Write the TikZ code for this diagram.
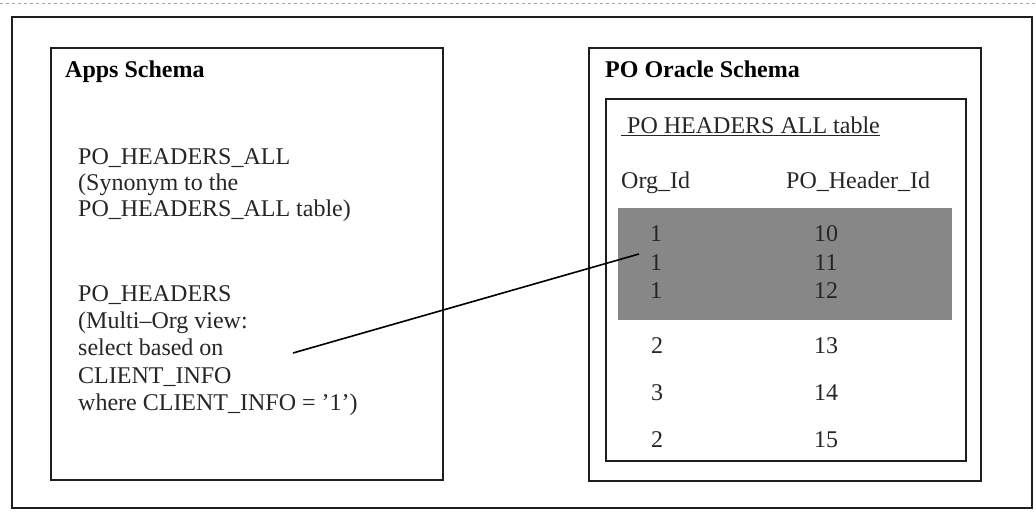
\documentclass[tikz,border=0pt]{standalone}
\usepackage{fontspec}
\setmainfont{Liberation Serif}
\definecolor{rowgray}{RGB}{135,135,135}
\definecolor{boxline}{RGB}{30,30,30}
\begin{document}
\begin{tikzpicture}[x=1pt,y=-1pt,
  frame/.style={draw=boxline,line width=1.6pt},
  txt/.style={anchor=base west,inner sep=0pt,font=\fontsize{24}{26}\selectfont,text=black!85},
  hdr/.style={anchor=base west,inner sep=0pt,font=\fontsize{24}{26}\selectfont\bfseries},
  num/.style={anchor=base,inner sep=0pt,font=\fontsize{24}{26}\selectfont,text=black!85},
  link/.style={draw=black,line width=1.6pt}]
\useasboundingbox (0,0) rectangle (1036,513);
\fill[white] (0,0) rectangle (1036,513);
% top dashed rule
\coordinate (tl) at (0,3);
\coordinate (tr) at (1036,3);
\draw[gray!70,dashed,line width=0.8pt] (tl) -- (tr);
% boxes
\draw[frame] (12,17) rectangle (1032,508);
\draw[frame] (51,48) rectangle (443,480);
\draw[frame] (589,48) rectangle (981,481);
\draw[frame] (606,99) rectangle (966,461);
\fill[rowgray] (618,208) rectangle (952,320);
% Apps schema texts
\node[hdr] (apps) at (65,78) {Apps Schema};
\node[txt] (a1) at (78,165) {PO\_HEADERS\_ALL};
\node[txt] (a2) at (78,191) {(Synonym to the};
\node[txt] (a3) at (78,217) {PO\_HEADERS\_ALL table)};
\node[txt] (b1) at (78,301) {PO\_HEADERS};
\node[txt] (b2) at (78,328) {(Multi–Org view:};
\node[txt] (b3) at (78,355) {select based on};
\node[txt] (b4) at (78,383) {CLIENT\_INFO};
\node[txt] (b5) at (78,410) {where CLIENT\_INFO = ’1’)};
% PO Oracle schema texts
\node[hdr] (po) at (605,78) {PO Oracle Schema};
\node[txt] (tt) at (621,134) {\underline{\ PO HEADERS ALL table}};
\node[txt] (c1) at (621,189) {Org\_Id};
\node[txt] (c2) at (786,189) {PO\_Header\_Id};
\node[num] (r1a) at (656,242) {1};
\node[num] (r1b) at (826,242) {10};
\node[num] (r2a) at (656,270) {1};
\node[num] (r2b) at (826,270) {11};
\node[num] (r3a) at (656,298) {1};
\node[num] (r3b) at (826,298) {12};
\node[num] (r4a) at (657,353) {2};
\node[num] (r4b) at (826,353) {13};
\node[num] (r5a) at (657,400) {3};
\node[num] (r5b) at (826,400) {14};
\node[num] (r6a) at (657,447) {2};
\node[num] (r6b) at (826,447) {15};
% connector
\coordinate (ls) at (293,353);
\coordinate (le) at (639,254);
\draw[link] (ls) -- (le);
\end{tikzpicture}
\end{document}
